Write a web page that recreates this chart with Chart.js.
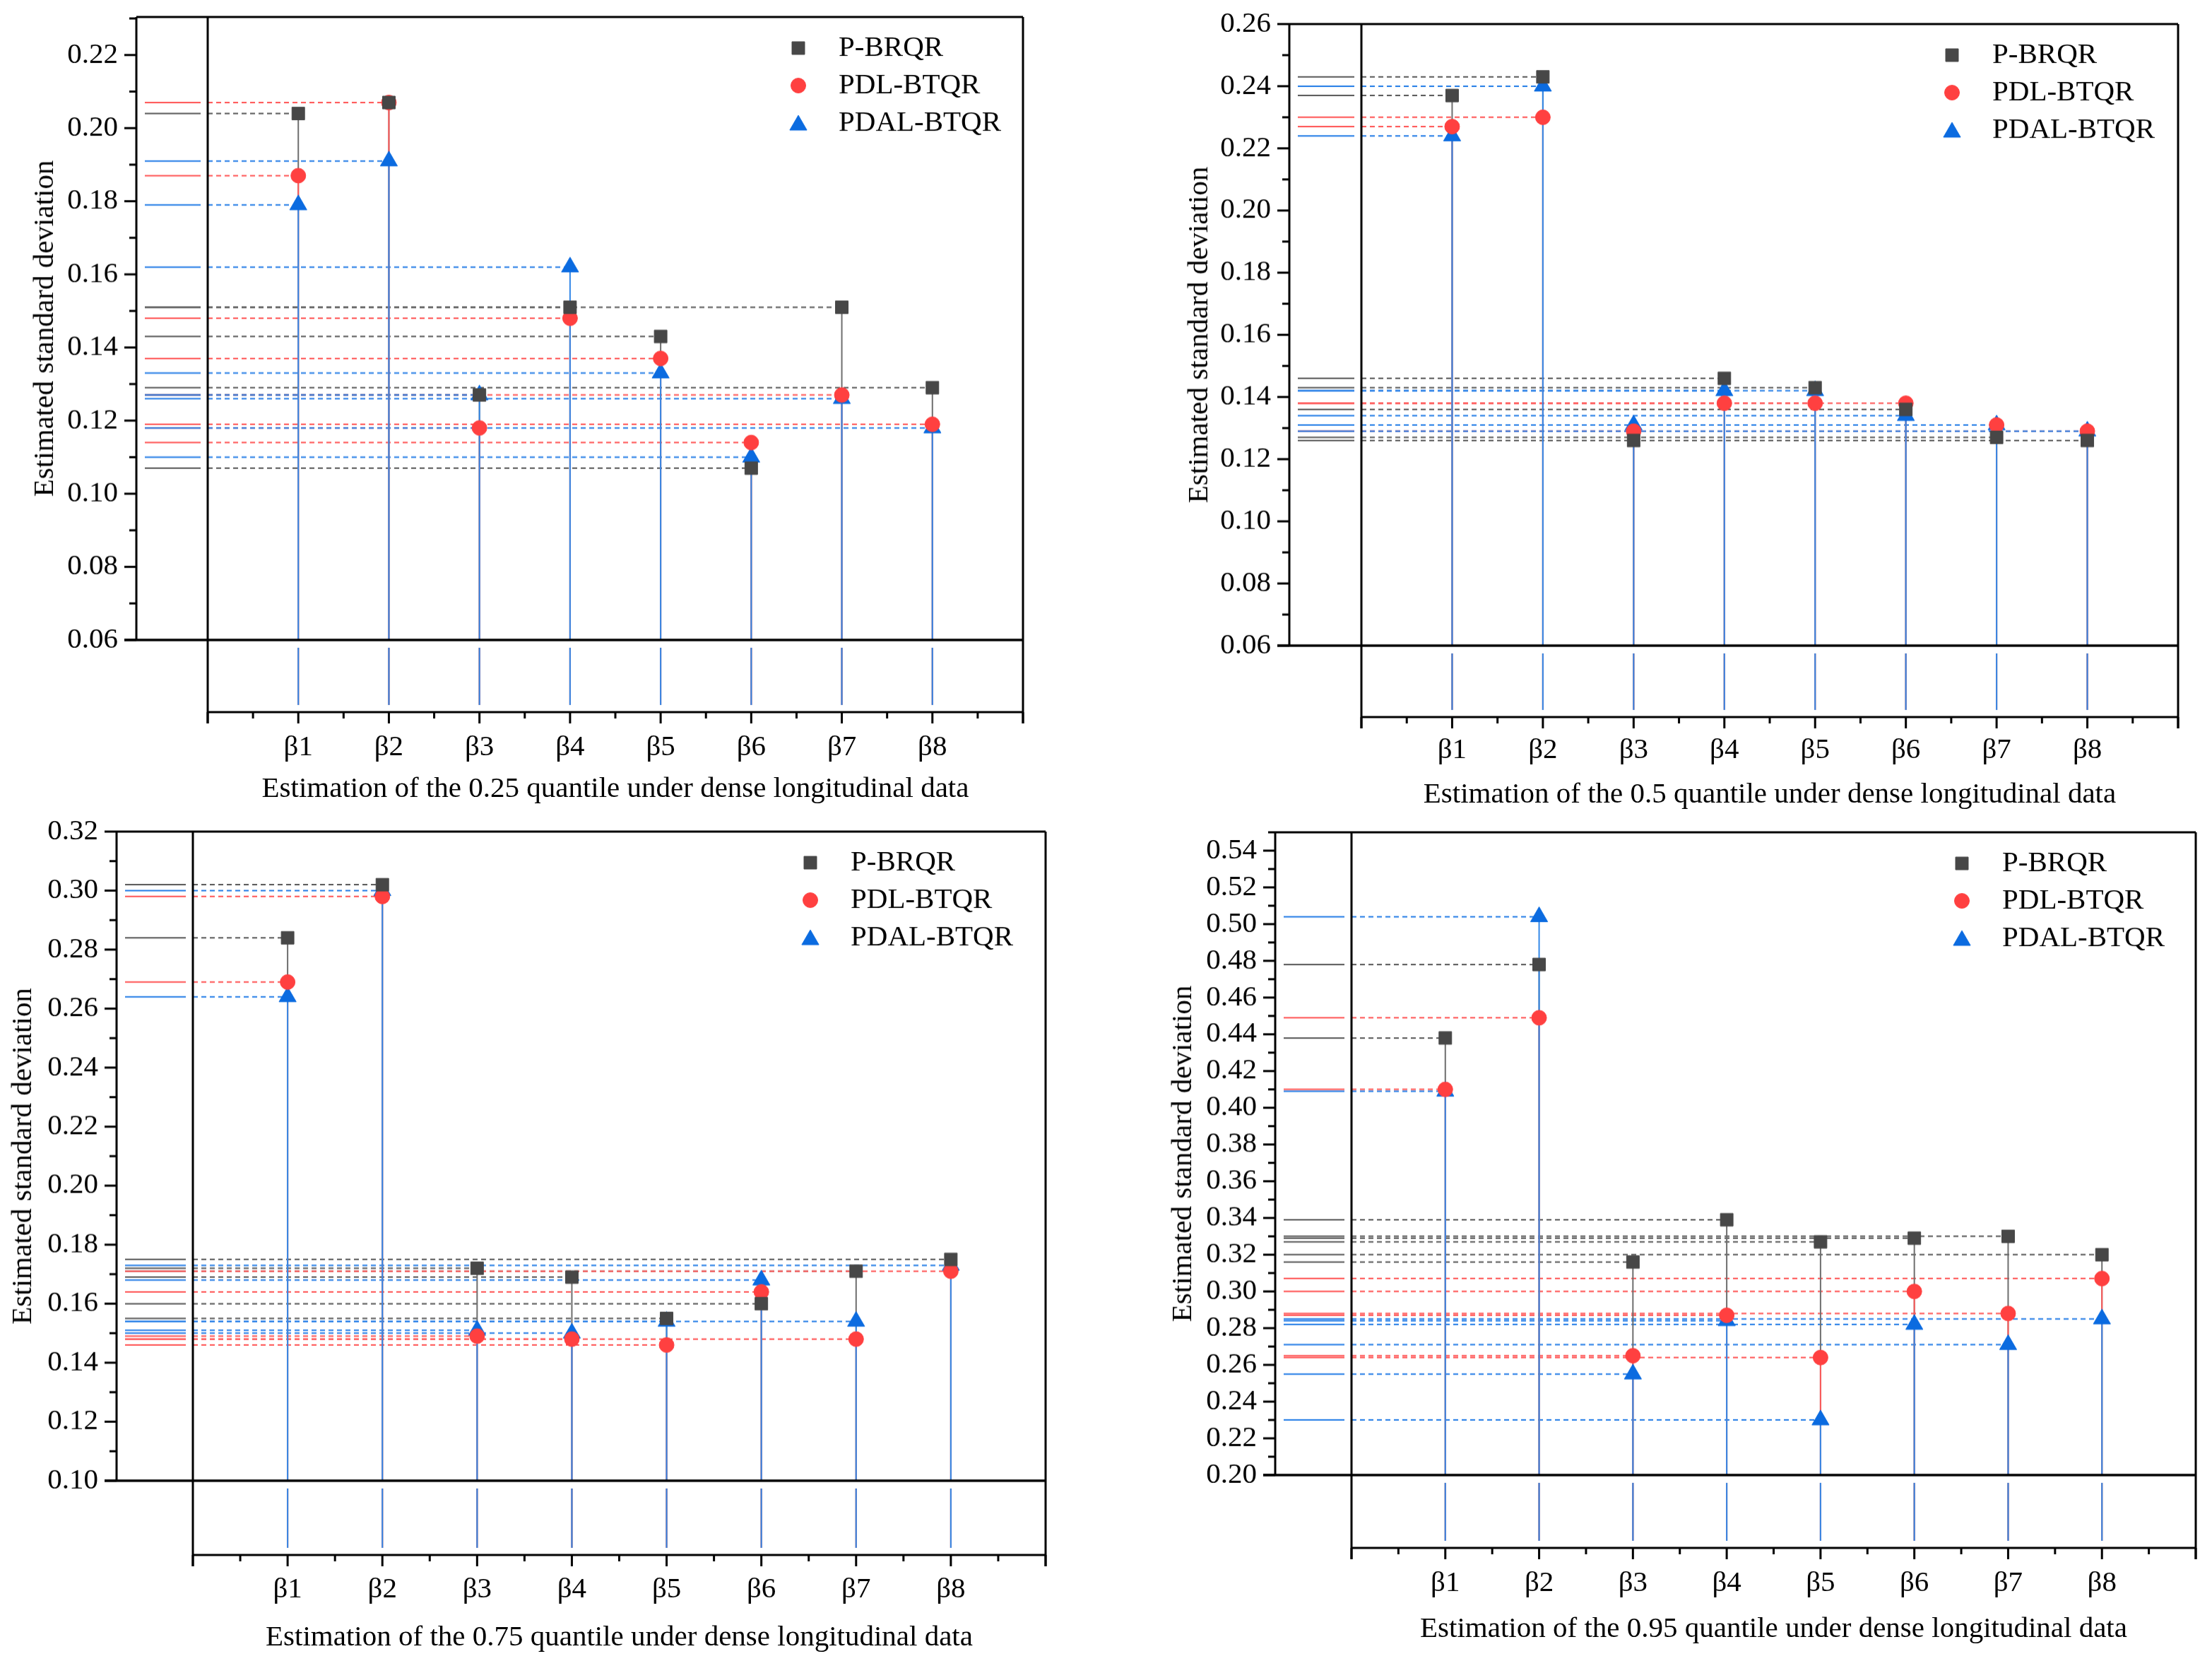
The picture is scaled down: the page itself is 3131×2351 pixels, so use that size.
<!DOCTYPE html>
<html>
<head>
<meta charset="utf-8">
<title>Estimated standard deviation by quantile</title>
<script src="https://cdn.jsdelivr.net/npm/chart.js@4.4.1/dist/chart.umd.min.js"></script>
<style>
  html, body { margin: 0; padding: 0; background: #fff; }
  body { width: 3131px; height: 2351px; position: relative; overflow: hidden; }
  .panel { position: absolute; }
</style>
</head>
<body>
<div class="panel" id="p1"><canvas id="c1"></canvas></div>
<div class="panel" id="p2"><canvas id="c2"></canvas></div>
<div class="panel" id="p3"><canvas id="c3"></canvas></div>
<div class="panel" id="p4"><canvas id="c4"></canvas></div>
<script>
// ---- data ----
const categories = ['β1', 'β2', 'β3', 'β4', 'β5', 'β6', 'β7', 'β8'];
const seriesNames = ['P-BRQR', 'PDL-BTQR', 'PDAL-BTQR'];
const quantiles = ['0.25', '0.5', '0.75', '0.95'];

const pbrqr25 = [0.204, 0.207, 0.127, 0.151, 0.143, 0.107, 0.151, 0.129];
const pdl25   = [0.187, 0.207, 0.118, 0.148, 0.137, 0.114, 0.127, 0.119];
const pdal25  = [0.179, 0.191, 0.127, 0.162, 0.133, 0.110, 0.126, 0.118];

const pbrqr50 = [0.237, 0.243, 0.126, 0.146, 0.143, 0.136, 0.127, 0.126];
const pdl50   = [0.227, 0.230, 0.129, 0.138, 0.138, 0.138, 0.131, 0.129];
const pdal50  = [0.224, 0.240, 0.131, 0.142, 0.142, 0.134, 0.131, 0.129];

const pbrqr75 = [0.284, 0.302, 0.172, 0.169, 0.155, 0.160, 0.171, 0.175];
const pdl75   = [0.269, 0.298, 0.149, 0.148, 0.146, 0.164, 0.148, 0.171];
const pdal75  = [0.264, 0.300, 0.151, 0.150, 0.154, 0.168, 0.154, 0.173];

const pbrqr95 = [0.438, 0.478, 0.316, 0.339, 0.327, 0.329, 0.330, 0.320];
const pdl95   = [0.410, 0.449, 0.265, 0.287, 0.264, 0.300, 0.288, 0.307];
const pdal95  = [0.409, 0.504, 0.255, 0.284, 0.230, 0.282, 0.271, 0.285];

const yTicks25 = [0.06, 0.08, 0.10, 0.12, 0.14, 0.16, 0.18, 0.20, 0.22];
const yTicks50 = [0.06, 0.08, 0.10, 0.12, 0.14, 0.16, 0.18, 0.20, 0.22, 0.24, 0.26];
const yTicks75 = [0.10, 0.12, 0.14, 0.16, 0.18, 0.20, 0.22, 0.24, 0.26, 0.28, 0.30, 0.32];
const yTicks95 = [0.20, 0.22, 0.24, 0.26, 0.28, 0.30, 0.32, 0.34, 0.36, 0.38, 0.40,
                  0.42, 0.44, 0.46, 0.48, 0.50, 0.52, 0.54];

// ---- styling ----
const FONT = 41;
const LH = FONT * 1.2;
Chart.defaults.font.family = "'Liberation Serif', 'Times New Roman', serif";
Chart.defaults.font.size = FONT;
Chart.defaults.color = '#000';

const markerStyles = ['rect', 'circle', 'triangle'];
const markerRadius = [12.7, 10.5, 14];
const markerColors = ['#474747', '#ff4040', '#0b6be0'];
const dashColors = ['#555555', '#ff5050', '#1f7ae6'];
const dropColors = ['#6e6e6e', '#ff5a5a', '#3388e8'];

function seg(ctx, x1, y1, x2, y2) {
  ctx.beginPath();
  ctx.moveTo(x1, y1);
  ctx.lineTo(x2, y2);
  ctx.stroke();
}

// drop lines, offset axes and the legend (Origin-like layout)
const framePlugin = {
  id: 'frame',
  beforeDatasetsDraw(chart, args, o) {
    const {ctx, chartArea: ca, scales: {x, y}} = chart;
    const ax = ca.left - o.axisGap;
    const bx = ca.bottom + o.gap;
    const ds = chart.data.datasets;
    ctx.save();
    ctx.lineWidth = 2;
    // horizontal drop lines
    ds.forEach((d, k) => {
      d.data.forEach(p => {
        const px = x.getPixelForValue(p.x), py = y.getPixelForValue(p.y);
        ctx.strokeStyle = dashColors[k];
        ctx.setLineDash([7, 5]);
        seg(ctx, ca.left, py, px, py);
        ctx.setLineDash([]);
        seg(ctx, ax + 12, py, ca.left - 10, py);
      });
    });
    // vertical drop lines
    ds.forEach((d, k) => {
      ctx.strokeStyle = dropColors[k];
      d.data.forEach(p => {
        const px = x.getPixelForValue(p.x), py = y.getPixelForValue(p.y);
        seg(ctx, px, py, px, ca.bottom);
        seg(ctx, px, ca.bottom + 11, px, bx - 10);
      });
    });

    // frame
    ctx.strokeStyle = '#000';
    ctx.lineWidth = 3;
    seg(ctx, ax, ca.top, ca.right, ca.top);
    seg(ctx, ca.right, ca.top, ca.right, bx + 16);
    seg(ctx, ax, ca.top, ax, ca.bottom);
    seg(ctx, ca.left, ca.top, ca.left, bx + 16);
    seg(ctx, ca.left, bx, ca.right, bx);
    ctx.lineWidth = 3.5;
    seg(ctx, ax - 17, ca.bottom, ca.right, ca.bottom);

    // y ticks on the offset axis
    ctx.lineWidth = 3;
    const yt = o.ticks;
    const step = yt[1] - yt[0];
    yt.forEach(v => {
      const py = y.getPixelForValue(v);
      seg(ctx, ax, py, ax - 17, py);
      const mv = v + step / 2;
      if (mv <= y.max + 1e-9) {
        const my = y.getPixelForValue(mv);
        seg(ctx, ax, my, ax - 10, my);
      }
    });
    // x ticks on the lowered axis
    for (let v = x.min; v <= x.max; v += 0.5) {
      const px = x.getPixelForValue(v);
      const major = Math.abs(v - Math.round(v)) < 1e-6;
      seg(ctx, px, bx, px, bx + (major ? 16 : 9));
    }
    ctx.restore();
  },
  afterDraw(chart, args, o) {
    const {ctx, chartArea: ca} = chart;
    const rows = [44, 97, 150];
    const mx = ca.right - o.legendDx;
    ctx.save();
    chart.data.datasets.forEach((d, k) => {
      const my = ca.top + rows[k];
      ctx.fillStyle = markerColors[k];
      ctx.strokeStyle = markerColors[k];
      ctx.lineWidth = 1;
      Chart.helpers.drawPoint(ctx, {
        pointStyle: markerStyles[k], radius: markerRadius[k], rotation: 0, borderWidth: 1
      }, mx, k === 2 ? my + 3 : my);
      ctx.fillStyle = '#000';
      ctx.font = FONT + "px 'Liberation Serif', 'Times New Roman', serif";
      ctx.textAlign = 'left';
      ctx.textBaseline = 'middle';
      ctx.fillText(d.label, mx + 57, my);
    });
    ctx.restore();
  }
};

const panels = [
  {canvas: 'c1', box: 'p1', q: quantiles[0], series: [pbrqr25, pdl25, pdal25], ticks: yTicks25,
   yMin: 0.06, yMax: 0.2304,
   g: {yAxisX: 193, x0: 294, right: 1448, top: 24, base: 905, bottomAxis: 1007,
       labelY: 1057, titleY: 1116, yTitleX: 64, legendX: 1130}},
  {canvas: 'c2', box: 'p2', q: quantiles[1], series: [pbrqr50, pdl50, pdal50], ticks: yTicks50,
   yMin: 0.06, yMax: 0.26,
   g: {yAxisX: 1825, x0: 1927, right: 3083, top: 34, base: 913, bottomAxis: 1014,
       labelY: 1061, titleY: 1124, yTitleX: 1698, legendX: 2763}},
  {canvas: 'c3', box: 'p3', q: quantiles[2], series: [pbrqr75, pdl75, pdal75], ticks: yTicks75,
   yMin: 0.10, yMax: 0.32,
   g: {yAxisX: 165, x0: 273, right: 1480, top: 1177, base: 2095, bottomAxis: 2200,
       labelY: 2249, titleY: 2317, yTitleX: 33, legendX: 1147}},
  {canvas: 'c4', box: 'p4', q: quantiles[3], series: [pbrqr95, pdl95, pdal95], ticks: yTicks95,
   yMin: 0.20, yMax: 0.55,
   g: {yAxisX: 1805, x0: 1913, right: 3108, top: 1178, base: 2087, bottomAxis: 2190,
       labelY: 2240, titleY: 2305, yTitleX: 1675, legendX: 2777}}
];

panels.forEach(pn => {
  const g = pn.g;
  const left = g.yAxisX - 160;
  const top = Math.max(0, g.top - 40);
  const padTop = g.top - top;
  const wy = g.x0 - left;
  const hx = g.titleY - g.base + LH / 2 + 8;
  const box = document.getElementById(pn.box);
  box.style.left = left + 'px';
  box.style.top = top + 'px';
  box.style.width = (g.right + 20 - left) + 'px';
  box.style.height = (g.base - top + hx) + 'px';

  new Chart(document.getElementById(pn.canvas), {
    type: 'scatter',
    data: {
      datasets: pn.series.map((vals, k) => ({
        label: seriesNames[k],
        data: vals.map((v, i) => ({x: i + 1, y: v})),
        pointStyle: markerStyles[k],
        pointRadius: markerRadius[k],
        pointHoverRadius: markerRadius[k],
        backgroundColor: markerColors[k],
        borderColor: markerColors[k],
        borderWidth: 1,
        showLine: false
      }))
    },
    options: {
      responsive: true,
      maintainAspectRatio: false,
      devicePixelRatio: 1,
      animation: false,
      layout: {padding: {top: padTop, right: 20, left: 0, bottom: 0}},
      plugins: {
        legend: {display: false},
        tooltip: {enabled: false},
        frame: {
          axisGap: g.x0 - g.yAxisX,
          gap: g.bottomAxis - g.base,
          ticks: pn.ticks,
          legendDx: g.right - g.legendX
        }
      },
      scales: {
        x: {
          type: 'linear',
          position: 'bottom',
          min: 0,
          max: 9,
          afterBuildTicks: s => { s.ticks = categories.map((c, i) => ({value: i + 1})); },
          afterFit: s => { s.height = hx; s.paddingLeft = 0; s.paddingRight = 0; },
          grid: {display: false, drawTicks: false},
          border: {display: false},
          ticks: {
            autoSkip: false,
            maxRotation: 0,
            padding: g.labelY - g.base - LH / 2,
            callback: v => categories[Math.round(v) - 1]
          },
          title: {
            display: true,
            text: 'Estimation of the ' + pn.q + ' quantile under dense longitudinal data',
            padding: {top: 0, bottom: 8}
          }
        },
        y: {
          type: 'linear',
          min: pn.yMin,
          max: pn.yMax,
          afterBuildTicks: s => { s.ticks = pn.ticks.map(v => ({value: v})); },
          afterFit: s => { s.width = wy; s.paddingTop = 0; s.paddingBottom = 0; },
          grid: {display: false, drawTicks: false},
          border: {display: false},
          ticks: {
            autoSkip: false,
            padding: g.x0 - g.yAxisX + 26,
            callback: v => v.toFixed(2)
          },
          title: {
            display: true,
            text: 'Estimated standard deviation',
            padding: {top: g.yTitleX - left - LH / 2, bottom: 0}
          }
        }
      }
    },
    plugins: [framePlugin]
  });
});
</script>
</body>
</html>
